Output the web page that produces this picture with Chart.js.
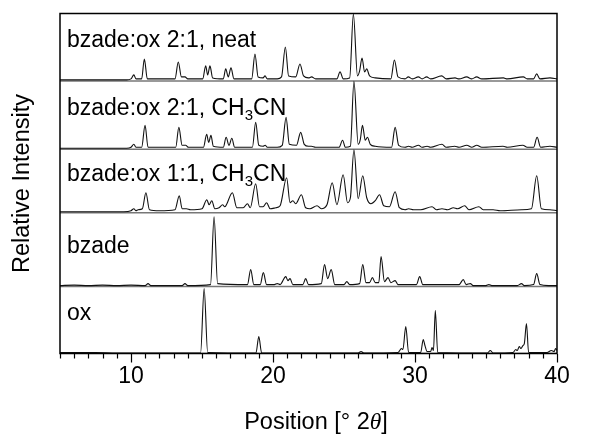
<!DOCTYPE html>
<html>
<head>
<title>XRD stack</title>
<script src="https://cdn.jsdelivr.net/npm/chart.js"></script>
<style>
    html, body { margin: 0; padding: 0; background: #fff; }
</style>
</head>
<body>
<canvas id="xrd" width="600" height="443"></canvas>
<script>
// patterns: [2theta, intensity above the trace's own baseline]
const neat = [[5,1],[9.7,1],[10.0,2],[10.2,6],[10.35,2],[10.75,2],[10.94,22],[11.15,2],[11.6,2],[13.1,2],[13.33,19],[13.55,4],[13.8,4],[14.0,2],
    [15.05,2],[15.26,15],[15.4,6],[15.56,15],[15.75,3],[16.5,2],[16.67,12],[16.85,4],[17.04,13],[17.25,2],[18.5,2],[18.73,27],[18.95,4],
    [19.3,3],[19.44,5],[19.6,2],[20.3,2],[20.6,4],[20.87,34],[21.1,5],[21.6,4],[21.9,17],[22.15,5],[22.5,3],[22.72,4],[23.0,2],[24.5,2],
    [24.72,9],[24.95,2],[25.4,3],[25.66,67],[25.95,5],[26.1,10],[26.27,23],[26.45,9],[26.6,12],[26.8,5],[27.2,3],[28.3,2],[28.55,21],
    [28.8,4],[29.3,2],[29.53,4],[29.8,2],[30.24,4],[30.5,2],[30.82,4],[31.1,2],[31.88,5],[32.2,2],[32.82,3],[33.1,2],[33.64,4],[34.0,2],
    [34.34,4],[34.7,2],[36.22,3],[36.5,2],[37.63,4],[37.9,2],[38.35,2],[38.57,7],[38.8,2],[39.5,3],[40,2]];
const acn21 = [[5,1],[9.7,1],[10.0,2],[10.2,5],[10.35,2],[10.75,2],[10.99,24],[11.2,2],[11.6,2],[13.15,2],[13.37,22],[13.6,4],[13.85,4],[14.05,2],
    [15.1,2],[15.33,15],[15.47,7],[15.63,14],[15.8,3],[16.5,2],[16.7,12],[16.9,4],[17.1,11],[17.3,2],[18.55,2],[18.78,27],[19.0,4],
    [19.3,3],[19.45,4],[19.6,2],[20.3,2],[20.65,4],[20.92,32],[21.15,5],[21.65,4],[21.95,17],[22.2,5],[22.5,3],[22.7,3],[23.0,2],[24.65,2],
    [24.9,9],[25.1,2],[25.45,3],[25.7,68],[26.0,5],[26.15,10],[26.3,24],[26.5,9],[26.65,12],[26.85,5],[27.2,3],[28.35,2],[28.6,22],
    [28.85,4],[29.3,2],[29.55,3],[29.8,2],[30.25,4],[30.5,2],[30.85,3],[31.1,2],[31.9,5],[32.2,2],[32.8,3],[33.1,2],[33.65,4],[34.0,2],
    [34.35,4],[34.7,2],[36.2,3],[36.5,2],[37.6,4],[37.9,2],[38.35,2],[38.6,12],[38.85,2],[39.5,3],[40,2]];
const acn11 = [[5,1],[9.5,1],[10.0,2],[10.2,4],[10.35,2],[10.5,3],[10.8,4],[11.05,20],[11.3,3],[12.0,2],[13.1,3],[13.4,17],[13.6,4],[13.9,4],
    [14.2,3],[15.0,4],[15.34,13],[15.5,8],[15.69,12],[15.9,4],[16.2,5],[16.45,8],[16.6,6],[17.14,20],[17.45,5],[17.9,5],[18.2,9],[18.4,5],
    [18.78,29],[19.05,6],[19.3,6],[19.55,10],[19.8,4],[20.2,5],[20.5,7],[20.96,35],[21.2,10],[21.4,12],[21.6,9],[22.0,18],[22.3,5],
    [22.6,4],[23.1,7],[23.4,4],[23.8,8],[24.17,30],[24.5,8],[24.94,38],[25.25,10],[25.45,15],[25.7,63],[26.0,14],[26.32,37],[26.6,15],
    [26.9,9],[27.2,12],[27.5,18],[27.8,7],[28.2,6],[28.6,21],[28.9,5],[29.3,3],[29.55,4],[29.9,3],[30.4,3],[31.2,6],[31.5,3],[31.9,4],
    [32.3,3],[32.7,5],[33.0,4],[33.5,7],[33.8,3],[34.5,6],[34.8,3],[35.5,3],[36.0,2],[37.5,3],[38.2,4],[38.57,37],[38.9,4],[39.5,3],[40,2]];
const bzade = [[5,1],[6,1.5],[7,1],[8,1.5],[9,1],[10,1.5],[11.0,1],[11.2,3],[11.4,1],[13.6,1],[13.8,3],[14.0,1],[15.6,2],[15.85,70],[16.1,3],
    [18.2,2],[18.43,17],[18.65,2],[19.1,2],[19.32,14],[19.55,2],[20.1,2],[20.3,3],[20.5,2],[20.9,10],[21.05,6],[21.2,8],[21.4,2],[22.1,2],
    [22.3,8],[22.5,2],[23.4,3],[23.63,22],[23.85,8],[24.1,17],[24.35,2],[25.0,2],[25.2,5],[25.4,2],[26.1,3],[26.32,22],[26.55,4],[26.8,4],
    [27.0,9],[27.2,4],[27.45,4],[27.61,30],[27.85,5],[28.1,9],[28.3,4],[28.6,6],[28.8,2],[30.1,2],[30.33,10],[30.55,2],[33.1,2],[33.4,7],
    [33.6,2],[33.9,3],[34.1,1],[35.0,1],[35.2,2],[35.4,1],[37.2,1],[37.5,3],[37.7,1],[38.35,2],[38.57,13],[38.8,2],[39.4,1],[40,1]];
const ox = [[5,1],[7.5,1],[9,0.5],[14.9,0.5],[15.15,65],[15.4,1],[18.8,0.5],[19.0,17],[19.2,0.5],[26.0,0.5],[26.2,2],[26.4,0.5],[28.8,1],
    [29.05,5],[29.15,4],[29.35,27],[29.55,1],[30.4,1],[30.58,14],[30.7,8],[30.85,2],[31.1,2],[31.2,6],[31.3,3],[31.43,43],[31.6,1],
    [35.1,0.5],[35.3,3],[35.5,0.5],[36.9,1],[37.1,4],[37.2,3],[37.35,7],[37.45,5],[37.6,8],[37.7,10],[37.85,30],[38.0,1],[39.3,1],
    [39.6,3],[39.8,2],[39.9,5],[40,3]];

const patterns = [neat, acn21, acn11, bzade, ox];
const shifts = [273, 204.5, 141, 67, 0];   // vertical stacking shift of each trace
// label pieces: [normal, subscript, normal]
const names = [['bzade:ox 2:1, neat', '', ''], ['bzade:ox 2:1, CH', '3', 'CN'], ['bzade:ox 1:1, CH', '3', 'CN'], ['bzade', '', ''], ['ox', '', '']];
const xTicks = [10, 20, 30, 40];

const FONT = '"Liberation Sans", Arial, sans-serif';
Chart.defaults.font.family = FONT;
Chart.defaults.color = '#000';

const datasets = [];
patterns.forEach((p, i) => {
    datasets.push({
        data: p.map(d => ({ x: d[0], y: d[1] + shifts[i] })),
        borderColor: '#111', borderWidth: 1.1, pointRadius: 0,
        cubicInterpolationMode: 'monotone', order: 1
    });
    datasets.push({
        data: [{ x: 5, y: shifts[i] }, { x: 40, y: shifts[i] }],
        borderColor: '#777', borderWidth: 1.5, pointRadius: 0, order: 2
    });
});

const decor = {
    id: 'decor',
    afterDraw(chart) {
        const { ctx, chartArea: a, scales: { x, y } } = chart;
        ctx.save();
        // minor ticks
        ctx.strokeStyle = '#000';
        ctx.lineWidth = 1.2;
        for (let v = 5; v <= 40; v++) {
            if (xTicks.includes(v)) continue;
            const px = Math.round(x.getPixelForValue(v)) + 0.5;
            ctx.beginPath();
            ctx.moveTo(px, a.bottom);
            ctx.lineTo(px, a.bottom + 5);
            ctx.stroke();
        }
        // frame
        ctx.lineWidth = 1.5;
        ctx.strokeRect(a.left, a.top, a.right - a.left, a.bottom - a.top);
        // trace labels
        ctx.fillStyle = '#000';
        ctx.textBaseline = 'alphabetic';
        names.forEach((n, i) => {
            let tx = a.left + 7;
            const ty = y.getPixelForValue(shifts[i]) - (i === 2 ? 31.5 : 34);
            ctx.font = '23px ' + FONT;
            ctx.fillText(n[0], tx, ty);
            tx += ctx.measureText(n[0]).width;
            if (n[1]) {
                ctx.font = '15px ' + FONT;
                ctx.fillText(n[1], tx, ty + 5);
                tx += ctx.measureText(n[1]).width;
                ctx.font = '23px ' + FONT;
                ctx.fillText(n[2], tx, ty);
            }
        });
        // x title with italic theta
        const parts = [['Position [\u00b0 2', '23.5px ' + FONT], ['\u03b8', 'italic 23.5px "Liberation Serif", serif'], [']', '23.5px ' + FONT]];
        let w = 0;
        parts.forEach(p => { ctx.font = p[1]; w += ctx.measureText(p[0]).width; });
        let tx = 316 - w / 2;
        parts.forEach(p => {
            ctx.font = p[1];
            ctx.fillText(p[0], tx, 429);
            tx += ctx.measureText(p[0]).width;
        });
        ctx.restore();
    }
};

new Chart(document.getElementById('xrd'), {
    type: 'line',
    data: { datasets },
    plugins: [decor],
    options: {
        responsive: false,
        animation: false,
        devicePixelRatio: 1,
        layout: { padding: { top: 13.5, right: 43, left: 0, bottom: 0 } },
        plugins: { legend: { display: false }, tooltip: { enabled: false } },
        scales: {
            x: {
                type: 'linear', min: 5, max: 40,
                border: { display: false },
                grid: {
                    drawOnChartArea: false, drawTicks: true, tickLength: 9, tickWidth: 1.2,
                    tickColor: c => (c.tick && xTicks.includes(c.tick.value)) ? '#000' : 'rgba(0,0,0,0)'
                },
                ticks: {
                    stepSize: 1, autoSkip: false, maxRotation: 0, padding: 0,
                    font: { size: 23 }, color: '#000',
                    callback: v => xTicks.includes(v) ? String(v) : ''
                },
                afterFit: s => { s.height = 89.5; }
            },
            y: {
                min: 0, max: 340.5,
                border: { display: false },
                grid: { display: false },
                ticks: { display: false },
                title: { display: true, text: 'Relative Intensity', font: { size: 23.5 }, color: '#000', padding: { top: 8, bottom: 0 } },
                afterFit: s => { s.width = 60; }
            }
        }
    }
});
</script>
</body>
</html>
